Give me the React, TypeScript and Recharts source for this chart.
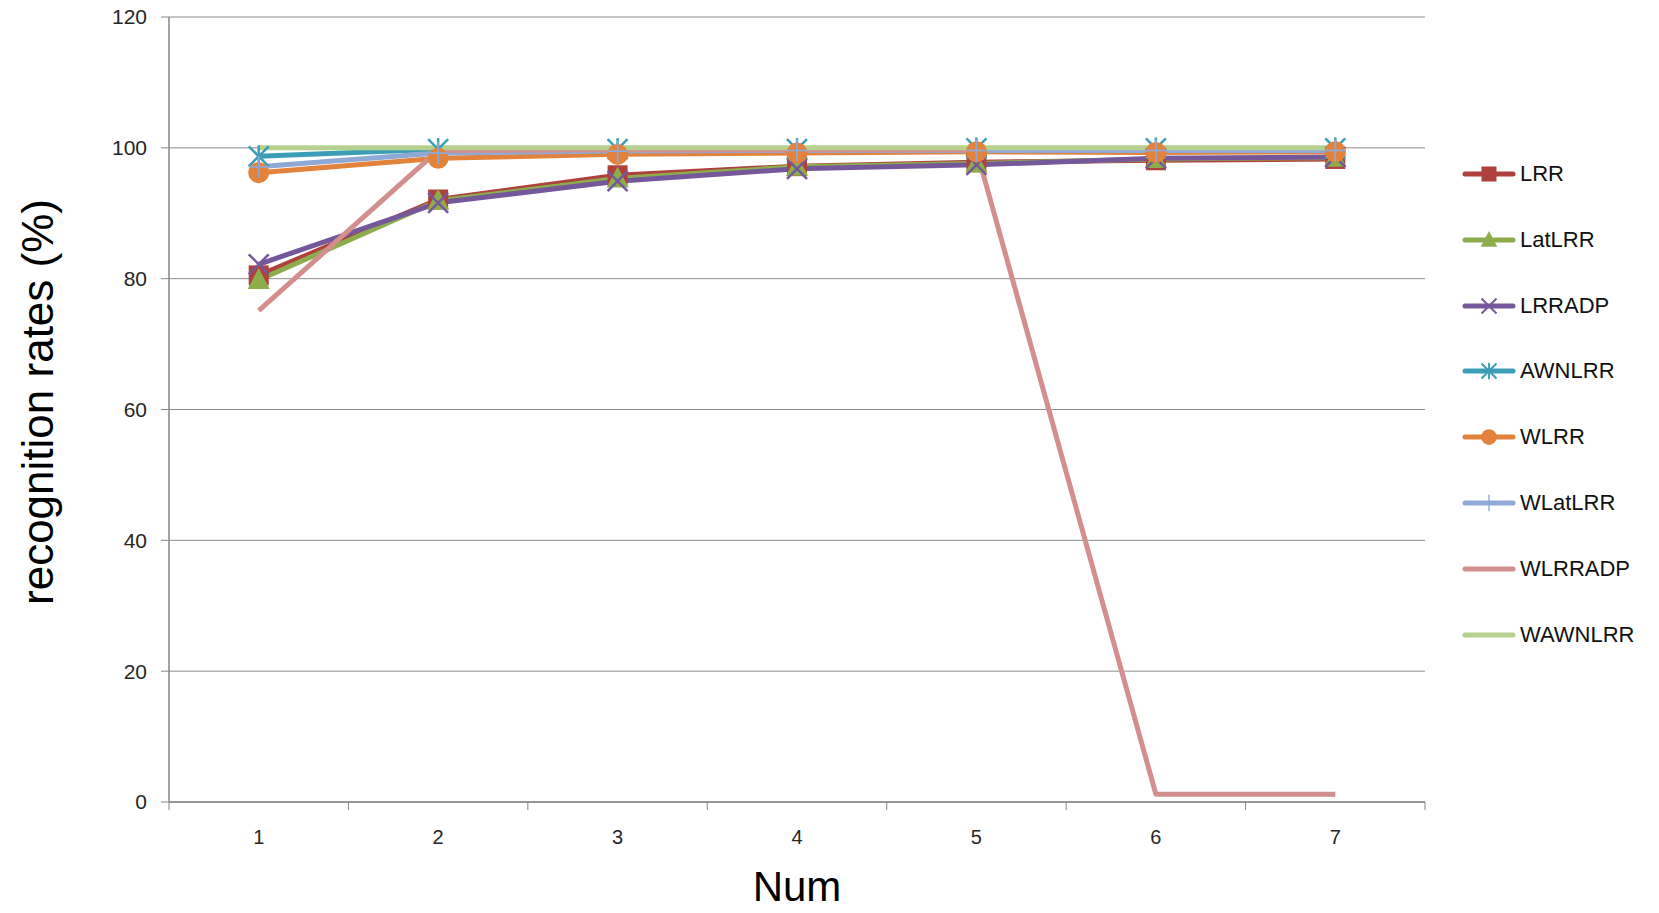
import React from 'react';
import { LineChart, Line, XAxis, YAxis, CartesianGrid, Label } from 'recharts';

const NUMS = [1, 2, 3, 4, 5, 6, 7];
const LRR = [80.5, 92.1, 95.8, 97.2, 97.8, 98.1, 98.3];
const LAT_LRR = [79.8, 91.9, 95.3, 97.1, 97.6, 98.3, 98.5];
const LRRADP = [82.2, 91.6, 94.9, 96.8, 97.4, 98.4, 98.6];
const AWNLRR = [98.7, 99.8, 99.8, 99.8, 99.9, 99.9, 99.9];
const WLRR = [96.2, 98.4, 99.0, 99.2, 99.4, 99.3, 99.4];
const WLAT_LRR = [97.1, 99.2, 99.5, 99.6, 99.6, 99.6, 99.6];
const WLRRADP = [75.1, 99.6, 99.7, 99.7, 99.7, 1.2, 1.2];
const WAWNLRR = [100, 100, 100, 100, 100, 100, 100];
const Y_TICKS = [0, 20, 40, 60, 80, 100, 120];

const data = NUMS.map((n, i) => ({
  num: n,
  LRR: LRR[i],
  LatLRR: LAT_LRR[i],
  LRRADP: LRRADP[i],
  AWNLRR: AWNLRR[i],
  WLRR: WLRR[i],
  WLatLRR: WLAT_LRR[i],
  WLRRADP: WLRRADP[i],
  WAWNLRR: WAWNLRR[i],
}));

type Kind = 'square' | 'triangle' | 'x' | 'star' | 'circle' | 'plus' | 'none';

const series: { key: string; color: string; kind: Kind }[] = [
  { key: 'LRR', color: '#AE403D', kind: 'square' },
  { key: 'LatLRR', color: '#8DAD4C', kind: 'triangle' },
  { key: 'LRRADP', color: '#75589A', kind: 'x' },
  { key: 'AWNLRR', color: '#3C9EB6', kind: 'star' },
  { key: 'WLRR', color: '#E3823A', kind: 'circle' },
  { key: 'WLatLRR', color: '#8FA9D6', kind: 'plus' },
  { key: 'WLRRADP', color: '#D38F8D', kind: 'none' },
  { key: 'WAWNLRR', color: '#B6D090', kind: 'none' },
];

const FONT = "'Liberation Sans', Arial, sans-serif";
const PLOT_LEFT = 169;
const PLOT_RIGHT = 1425;
const BAND = (PLOT_RIGHT - PLOT_LEFT) / 7;

function marker(kind: Kind, cx: number, cy: number, color: string, s: number) {
  switch (kind) {
    case 'square':
      return <rect x={cx - 10 * s} y={cy - 10 * s} width={20 * s} height={20 * s} fill={color} />;
    case 'triangle':
      return (
        <polygon
          points={`${cx},${cy - 12 * s} ${cx - 11 * s},${cy + 9 * s} ${cx + 11 * s},${cy + 9 * s}`}
          fill={color}
        />
      );
    case 'x':
      return (
        <g stroke={color} strokeWidth={2.5 * s}>
          <line x1={cx - 10 * s} y1={cy - 10 * s} x2={cx + 10 * s} y2={cy + 10 * s} />
          <line x1={cx - 10 * s} y1={cy + 10 * s} x2={cx + 10 * s} y2={cy - 10 * s} />
        </g>
      );
    case 'star':
      return (
        <g stroke={color} strokeWidth={2.5 * s}>
          <line x1={cx - 10 * s} y1={cy - 10 * s} x2={cx + 10 * s} y2={cy + 10 * s} />
          <line x1={cx - 10 * s} y1={cy + 10 * s} x2={cx + 10 * s} y2={cy - 10 * s} />
          <line x1={cx} y1={cy - 11 * s} x2={cx} y2={cy + 11 * s} />
        </g>
      );
    case 'circle':
      return <circle cx={cx} cy={cy} r={10.5 * s} fill={color} />;
    case 'plus':
      return (
        <g stroke={color} strokeWidth={1.8 * s}>
          <line x1={cx} y1={cy - 11 * s} x2={cx} y2={cy + 11 * s} />
          <line x1={cx - 10 * s} y1={cy} x2={cx + 10 * s} y2={cy} />
        </g>
      );
    default:
      return null;
  }
}

const XTick = (props: any) => {
  const { x, y, payload, index } = props;
  return (
    <g>
      <line x1={x - BAND / 2} y1={y} x2={x - BAND / 2} y2={y + 8} stroke="#868686" />
      {index === NUMS.length - 1 && (
        <line x1={x + BAND / 2} y1={y} x2={x + BAND / 2} y2={y + 8} stroke="#868686" />
      )}
      <text x={x} y={y + 35} textAnchor="middle" dominantBaseline="central" fontSize={20} fill="#262626" fontFamily={FONT}>
        {payload.value}
      </text>
    </g>
  );
};

export default function App() {
  return (
    <div style={{ position: 'absolute', left: 0, top: 0, width: 1659, height: 913, background: '#fff' }}>
      <LineChart width={1659} height={913} data={data} margin={{ top: 17, right: 234, bottom: 0, left: 0 }}>
        <CartesianGrid vertical={false} stroke="#8C8C8C" />
        <XAxis
          dataKey="num"
          type="number"
          domain={[0.5, 7.5]}
          ticks={NUMS}
          height={111}
          tickSize={0}
          tickMargin={0}
          tickLine={false}
          axisLine={{ stroke: '#868686', strokeWidth: 1.5 }}
          tick={<XTick />}
          interval={0}
        >
          <Label
            content={() => (
              <text x={797} y={886} textAnchor="middle" dominantBaseline="central" fontSize={42} fill="#000" fontFamily={FONT}>
                Num
              </text>
            )}
          />
        </XAxis>
        <YAxis
          domain={[0, 120]}
          ticks={Y_TICKS}
          width={PLOT_LEFT}
          tickSize={8}
          tickMargin={14}
          tickLine={{ stroke: '#868686' }}
          axisLine={{ stroke: '#868686', strokeWidth: 1.5 }}
          tick={{ fontSize: 21, fill: '#262626', fontFamily: FONT }}
          interval={0}
        >
          <Label
            content={() => (
              <text
                x={37}
                y={402}
                transform="rotate(-90 37 402)"
                textAnchor="middle"
                dominantBaseline="central"
                fontSize={44}
                fill="#000"
                fontFamily={FONT}
              >
                recognition rates (%)
              </text>
            )}
          />
        </YAxis>
        {series.map((s) => (
          <Line
            key={s.key}
            dataKey={s.key}
            stroke={s.color}
            strokeWidth={5}
            isAnimationActive={false}
            strokeLinejoin="round"
            dot={
              s.kind === 'none'
                ? false
                : (p: any) => (
                    <g key={`${s.key}-${p.index}`}>{marker(s.kind, p.cx, p.cy, s.color, 1)}</g>
                  )
            }
            activeDot={false}
          />
        ))}
      </LineChart>
      {series.map((s, i) => (
        <div
          key={s.key}
          style={{
            position: 'absolute',
            left: 1461,
            top: 174 + i * 65.8 - 13,
            height: 26,
            display: 'flex',
            alignItems: 'center',
            fontFamily: FONT,
            fontSize: 22,
            color: '#111',
          }}
        >
          <svg width={56} height={26}>
            <line x1={4} y1={13} x2={52} y2={13} stroke={s.color} strokeWidth={5} strokeLinecap="round" />
            {marker(s.kind, 28, 13, s.color, 0.75)}
          </svg>
          <span style={{ marginLeft: 3 }}>{s.key}</span>
        </div>
      ))}
    </div>
  );
}
